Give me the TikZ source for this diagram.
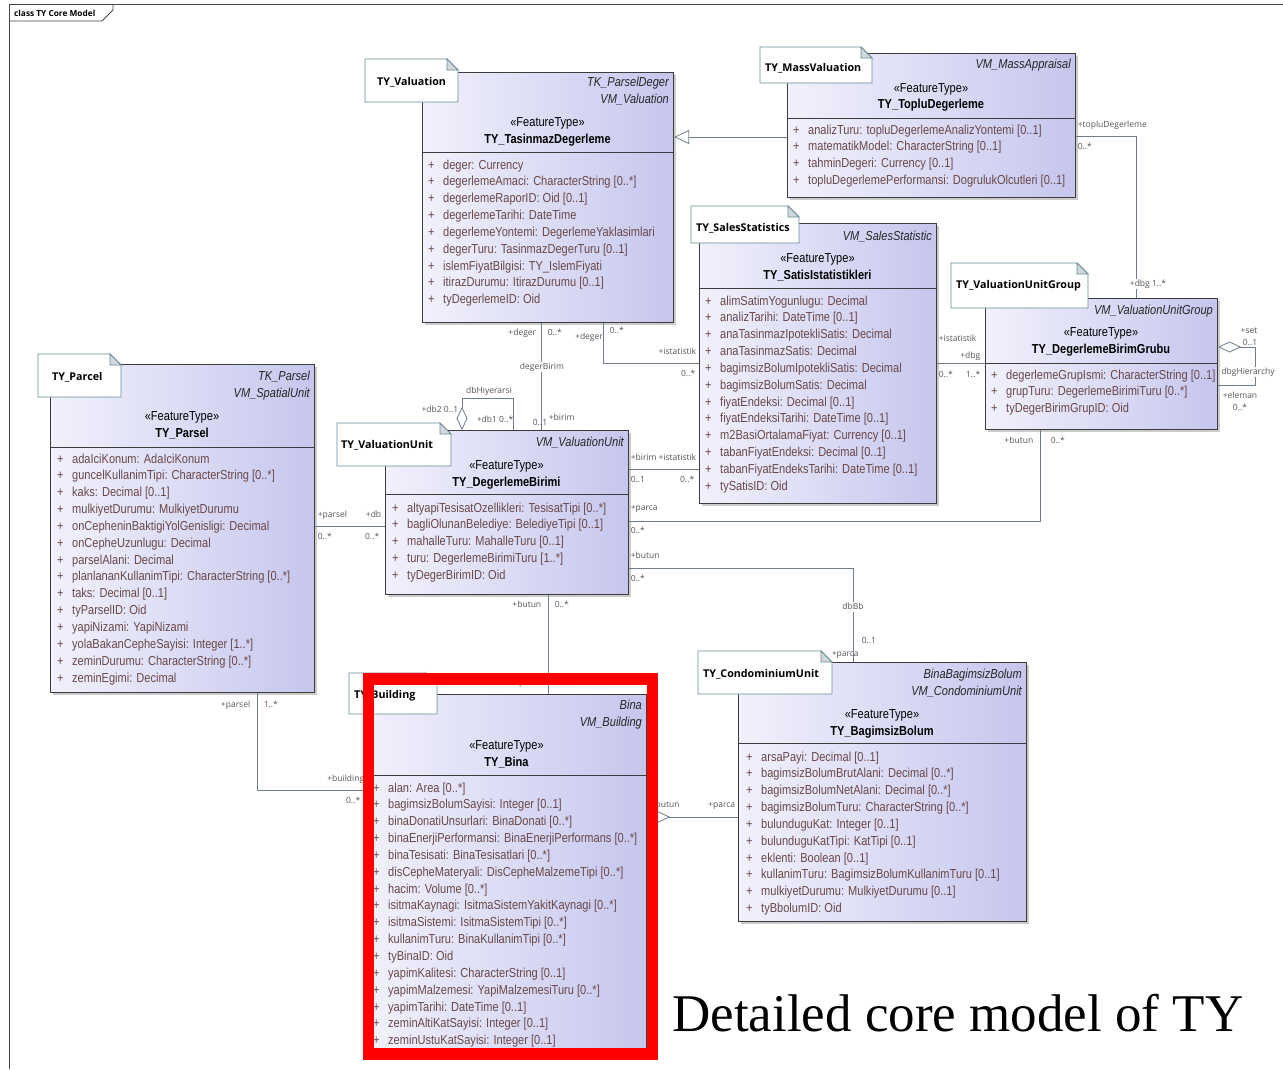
\documentclass[tikz,border=0pt]{standalone}
\usepackage{fontspec}
\setmainfont{Liberation Sans}
\newfontfamily\umlfont[FakeStretch=0.85]{Liberation Sans}
\newfontfamily\notefont{Open Sans}
\newfontfamily\capfont{Liberation Serif}
\usetikzlibrary{arrows.meta,shadows}

\definecolor{boxl}{RGB}{241,241,252}
\definecolor{boxr}{RGB}{198,198,238}
\definecolor{boxline}{RGB}{60,60,60}
\definecolor{attrcol}{RGB}{105,72,72}
\definecolor{notecol}{RGB}{104,140,150}
\definecolor{foldcol}{RGB}{212,216,222}
\definecolor{linecol}{RGB}{112,126,140}
\definecolor{lblcol}{RGB}{85,85,85}
\definecolor{framecol}{RGB}{70,70,70}

\tikzset{
  classbox/.style={draw=boxline, line width=1.1pt, left color=boxl, right color=boxr,
    anchor=north west, inner sep=0pt,
    drop shadow={shadow xshift=2.5pt, shadow yshift=-2.5pt, fill=black!45, opacity=0.45}},
  sepline/.style={draw=boxline, line width=0.9pt},
  txt/.style={inner sep=0pt, text height=10pt, text depth=2pt, font=\umlfont\fontsize{13}{15}\selectfont},
  attr/.style={txt, anchor=west, text=attrcol},
  tag/.style={txt, anchor=east, font=\umlfont\fontsize{13}{15}\selectfont\itshape, text=black!85},
  stereo/.style={txt},
  cname/.style={txt, font=\umlfont\fontsize{13}{15}\selectfont\bfseries},
  notebox/.style={draw=notecol, fill=white, line width=0.9pt},
  notefold/.style={draw=notecol, fill=foldcol, line width=0.9pt},
  notetext/.style={anchor=west, inner sep=0pt, text height=8pt, text depth=2pt,
    font=\notefont\bfseries\fontsize{10.7}{12}\selectfont},
  assoc/.style={draw=linecol, line width=0.8pt},
  gen/.style={assoc, -{Triangle[open, length=15pt, width=14pt]}},
  aggr/.style={assoc, {Diamond[open, length=23pt, width=11pt]}-},
  lbl/.style={inner sep=0.6pt, text height=6.5pt, text depth=1.5pt, text=lblcol,
    font=\notefont\fontsize{8.5}{10}\selectfont},
  frame/.style={draw=framecol, line width=0.8pt},
}

\begin{document}
\begin{tikzpicture}[x=1pt, y=-1pt]
\useasboundingbox (0,0) rectangle (1283,1069);
\fill[white] (0,0) rectangle (1283,1069);

% diagram frame
\draw[frame] (9,1069) -- (9,4) -- (1283,4);
\draw[frame] (9,21) -- (102,21) -- (113,10) -- (113,4);
\node[anchor=west, inner sep=0pt, font=\notefont\bfseries\fontsize{8.3}{10}\selectfont] (ftitle) at (14,13) {class TY Core Model};

% TY_TasinmazDegerleme
\node[classbox, minimum width=251pt, minimum height=250pt] (tasd) at (422,72) {};
\draw[sepline] (tasd.west |- 0,152) -- (tasd.east |- 0,152);
\node[tag] (tasdt1) at (669,82) {TK\_ParselDeger};
\node[tag] (tasdt2) at (669,99) {VM\_Valuation};
\node[stereo] (tasds) at (547.5,122) {«FeatureType»};
\node[cname] (tasdn) at (547.5,139) {TY\_TasinmazDegerleme};
\foreach \a [count=\i] in {deger: Currency, degerlemeAmaci: CharacterString [0..*],
    degerlemeRaporID: Oid [0..1], degerlemeTarihi: DateTime,
    degerlemeYontemi: DegerlemeYaklasimlari, degerTuru: TasinmazDegerTuru [0..1],
    islemFiyatBilgisi: TY\_IslemFiyati, itirazDurumu: ItirazDurumu [0..1], tyDegerlemeID: Oid}
  \node[attr] (tasda\i) at (428,{165+(\i-1)*16.85}) {\makebox[15pt][l]{+}\a};

% TY_TopluDegerleme
\node[classbox, minimum width=288pt, minimum height=144pt] (topl) at (787,53) {};
\draw[sepline] (topl.west |- 0,118) -- (topl.east |- 0,118);
\node[tag] (toplt1) at (1071,64) {VM\_MassAppraisal};
\node[stereo] (topls) at (931,88) {«FeatureType»};
\node[cname] (topln) at (931,104) {TY\_TopluDegerleme};
\foreach \a [count=\i] in {analizTuru: topluDegerlemeAnalizYontemi [0..1],
    matematikModel: CharacterString [0..1], tahminDegeri: Currency [0..1],
    topluDegerlemePerformansi: DogrulukOlcutleri [0..1]}
  \node[attr] (topla\i) at (793,{130+(\i-1)*16.85}) {\makebox[15pt][l]{+}\a};

% TY_SatisIstatistikleri
\node[classbox, minimum width=237pt, minimum height=280pt] (sati) at (699,223) {};
\draw[sepline] (sati.west |- 0,288) -- (sati.east |- 0,288);
\node[tag] (satit1) at (932,236) {VM\_SalesStatistic};
\node[stereo] (satis) at (817.5,258) {«FeatureType»};
\node[cname] (satin) at (817.5,275) {TY\_SatisIstatistikleri};
\foreach \a [count=\i] in {alimSatimYogunlugu: Decimal, analizTarihi: DateTime [0..1],
    anaTasinmazIpotekliSatis: Decimal, anaTasinmazSatis: Decimal,
    bagimsizBolumIpotekliSatis: Decimal, bagimsizBolumSatis: Decimal,
    fiyatEndeksi: Decimal [0..1], fiyatEndeksiTarihi: DateTime [0..1],
    m2BasiOrtalamaFiyat: Currency [0..1], tabanFiyatEndeksi: Decimal [0..1],
    tabanFiyatEndeksTarihi: DateTime [0..1], tySatisID: Oid}
  \node[attr] (satia\i) at (705,{301+(\i-1)*16.85}) {\makebox[15pt][l]{+}\a};

% TY_DegerlemeBirimGrubu
\node[classbox, minimum width=232pt, minimum height=131pt] (dbg) at (985,298) {};
\draw[sepline] (dbg.west |- 0,363) -- (dbg.east |- 0,363);
\node[tag] (dbgt1) at (1213,310) {VM\_ValuationUnitGroup};
\node[stereo] (dbgs) at (1101,332) {«FeatureType»};
\node[cname] (dbgn) at (1101,349) {TY\_DegerlemeBirimGrubu};
\foreach \a [count=\i] in {degerlemeGrupIsmi: CharacterString [0..1],
    grupTuru: DegerlemeBirimiTuru [0..*], tyDegerBirimGrupID: Oid}
  \node[attr] (dbga\i) at (991,{375+(\i-1)*16.85}) {\makebox[15pt][l]{+}\a};

% TY_Parsel
\node[classbox, minimum width=264pt, minimum height=328pt] (pars) at (50,364) {};
\draw[sepline] (pars.west |- 0,447) -- (pars.east |- 0,447);
\node[tag] (parst1) at (310,376) {TK\_Parsel};
\node[tag] (parst2) at (310,393) {VM\_SpatialUnit};
\node[stereo] (parss) at (182,416) {«FeatureType»};
\node[cname] (parsn) at (182,433) {TY\_Parsel};
\foreach \a [count=\i] in {adaIciKonum: AdaIciKonum, guncelKullanimTipi: CharacterString [0..*],
    kaks: Decimal [0..1], mulkiyetDurumu: MulkiyetDurumu,
    onCepheninBaktigiYolGenisligi: Decimal, onCepheUzunlugu: Decimal, parselAlani: Decimal,
    planlananKullanimTipi: CharacterString [0..*], taks: Decimal [0..1], tyParselID: Oid,
    yapiNizami: YapiNizami, yolaBakanCepheSayisi: Integer [1..*],
    zeminDurumu: CharacterString [0..*], zeminEgimi: Decimal}
  \node[attr] (parsa\i) at (57,{459+(\i-1)*16.85}) {\makebox[15pt][l]{+}\a};

% TY_DegerlemeBirimi
\node[classbox, minimum width=243pt, minimum height=164pt] (degb) at (385,430) {};
\draw[sepline] (degb.west |- 0,494) -- (degb.east |- 0,494);
\node[tag] (degbt1) at (624,442) {VM\_ValuationUnit};
\node[stereo] (degbs) at (506.5,465) {«FeatureType»};
\node[cname] (degbn) at (506.5,482) {TY\_DegerlemeBirimi};
\foreach \a [count=\i] in {altyapiTesisatOzellikleri: TesisatTipi [0..*],
    bagliOlunanBelediye: BelediyeTipi [0..1], mahalleTuru: MahalleTuru [0..1],
    turu: DegerlemeBirimiTuru [1..*], tyDegerBirimID: Oid}
  \node[attr] (degba\i) at (392,{508+(\i-1)*16.85}) {\makebox[15pt][l]{+}\a};

% TY_Bina
\node[classbox, minimum width=279pt, minimum height=358pt] (bina) at (367,694) {};
\draw[sepline] (bina.west |- 0,775) -- (bina.east |- 0,775);
\node[tag] (binat1) at (642,705) {Bina};
\node[tag] (binat2) at (642,722) {VM\_Building};
\node[stereo] (binas) at (506.5,745) {«FeatureType»};
\node[cname] (binan) at (506.5,762) {TY\_Bina};
\foreach \a [count=\i] in {alan: Area [0..*], bagimsizBolumSayisi: Integer [0..1],
    binaDonatiUnsurlari: BinaDonati [0..*], binaEnerjiPerformansi: BinaEnerjiPerformans [0..*],
    binaTesisati: BinaTesisatlari [0..*], disCepheMateryali: DisCepheMalzemeTipi [0..*],
    hacim: Volume [0..*], isitmaKaynagi: IsitmaSistemYakitKaynagi [0..*],
    isitmaSistemi: IsitmaSistemTipi [0..*], kullanimTuru: BinaKullanimTipi [0..*],
    tyBinaID: Oid, yapimKalitesi: CharacterString [0..1],
    yapimMalzemesi: YapiMalzemesiTuru [0..*], yapimTarihi: DateTime [0..1],
    zeminAltiKatSayisi: Integer [0..1], zeminUstuKatSayisi: Integer [0..1]}
  \node[attr] (binaa\i) at (373,{788+(\i-1)*16.85}) {\makebox[15pt][l]{+}\a};

% TY_BagimsizBolum
\node[classbox, minimum width=288pt, minimum height=259pt] (bbol) at (738,662) {};
\draw[sepline] (bbol.west |- 0,743) -- (bbol.east |- 0,743);
\node[tag] (bbolt1) at (1022,674) {BinaBagimsizBolum};
\node[tag] (bbolt2) at (1022,691) {VM\_CondominiumUnit};
\node[stereo] (bbols) at (882,714) {«FeatureType»};
\node[cname] (bboln) at (882,731) {TY\_BagimsizBolum};
\foreach \a [count=\i] in {arsaPayi: Decimal [0..1], bagimsizBolumBrutAlani: Decimal [0..*],
    bagimsizBolumNetAlani: Decimal [0..*], bagimsizBolumTuru: CharacterString [0..*],
    bulunduguKat: Integer [0..1], bulunduguKatTipi: KatTipi [0..1], eklenti: Boolean [0..1],
    kullanimTuru: BagimsizBolumKullanimTuru [0..1], mulkiyetDurumu: MulkiyetDurumu [0..1],
    tyBbolumID: Oid}
  \node[attr] (bbola\i) at (746,{757+(\i-1)*16.85}) {\makebox[15pt][l]{+}\a};

% connectors
\draw[gen] (topl.west |- 0,137) -- (tasd.east |- 0,137);
\draw[assoc] (topl.east |- 0,136) -| (dbg.north -| 1136,0);
\draw[assoc] (tasd.south -| 541,0) -- (degb.north -| 541,0);
\draw[assoc] (tasd.south -| 603,0) |- (sati.west |- 0,363);
\draw[assoc] (degb.east |- 0,469) -- (sati.west |- 0,469);
\draw[assoc] (degb.east |- 0,521) -| (dbg.south -| 1040,0);
\draw[assoc] (degb.east |- 0,568) -| (bbol.north -| 853,0);
\draw[assoc] (sati.east |- 0,363) -- (dbg.west |- 0,363);
\draw[assoc] (pars.east |- 0,526) -- (degb.west |- 0,526);
\draw[assoc] (pars.south -| 257,0) |- (bina.west |- 0,790);
\draw[assoc] (degb.south -| 548,0) -- (bina.north -| 548,0);
\draw[aggr] (bina.east |- 0,817) -- (bbol.west |- 0,817);
\draw[aggr] (degb.north -| 462,0) -- (462,398) -- (513,398) -- (degb.north -| 513,0);
\draw[aggr] (dbg.east |- 0,347) -- (1255,347) -- (1255,385) -- (dbg.east |- 0,385);

% connector labels
\node[lbl, anchor=west] (l1) at (1077,125) {+topluDegerleme};
\node[lbl, anchor=west] (l2) at (1077,147) {0..*};
\node[lbl, fill=white] (l3) at (1148,284) {+dbg 1..*};
\node[lbl, anchor=east] (l4) at (537,333) {+deger};
\node[lbl, anchor=west] (l5) at (547,333) {0..*};
\node[lbl, fill=white] (l6) at (542,367) {degerBirim};
\node[lbl] (l7) at (540,423) {0..1};
\node[lbl, anchor=west] (l8) at (548,418) {+birim};
\node[lbl] (l9) at (589,337) {+deger};
\node[lbl, anchor=west] (l10) at (609,331) {0..*};
\node[lbl, anchor=east] (l11) at (697,352) {+istatistik};
\node[lbl, anchor=east] (l12) at (696,374) {0..*};
\node[lbl, anchor=west] (l13) at (630,458) {+birim};
\node[lbl, anchor=east] (l14) at (697,458) {+istatistik};
\node[lbl, anchor=west] (l15) at (630,480) {0..1};
\node[lbl, anchor=east] (l16) at (695,480) {0..*};
\node[lbl, anchor=west] (l17) at (630,508) {+parca};
\node[lbl, anchor=west] (l18) at (630,531) {0..*};
\node[lbl, anchor=east] (l19) at (1034,441) {+butun};
\node[lbl, anchor=west] (l20) at (1050,441) {0..*};
\node[lbl, anchor=west] (l21) at (630,556) {+butun};
\node[lbl, anchor=west] (l22) at (630,579) {0..*};
\node[lbl, fill=white] (l23) at (853,607) {dbBb};
\node[lbl, anchor=west] (l24) at (861,641) {0..1};
\node[lbl, anchor=west] (l25) at (831,654) {+parca};
\node[lbl, anchor=west] (l26) at (938,339) {+istatistik};
\node[lbl, anchor=east] (l27) at (981,356) {+dbg};
\node[lbl, anchor=west] (l28) at (938,375) {0..*};
\node[lbl, anchor=east] (l29) at (981,375) {1..*};
\node[lbl] (l30) at (1249,331) {+set};
\node[lbl] (l31) at (1250,343) {0..1};
\node[lbl, fill=white] (l32) at (1248,372) {dbgHierarchy};
\node[lbl] (l33) at (1240,396) {+eleman};
\node[lbl] (l34) at (1240,408) {0..*};
\node[lbl, anchor=west] (l35) at (317,515) {+parsel};
\node[lbl, anchor=west] (l36) at (317,537) {0..*};
\node[lbl, anchor=east] (l37) at (382,515) {+db};
\node[lbl, anchor=east] (l38) at (380,537) {0..*};
\node[lbl, anchor=east] (l39) at (251,705) {+parsel};
\node[lbl, anchor=west] (l40) at (263,705) {1..*};
\node[lbl, anchor=east] (l41) at (365,779) {+building};
\node[lbl, anchor=east] (l42) at (361,801) {0..*};
\node[lbl, anchor=east] (l43) at (542,605) {+butun};
\node[lbl, anchor=west] (l44) at (554,605) {0..*};
\node[lbl, anchor=east] (l45) at (542,683) {+parca};
\node[lbl, anchor=west] (l46) at (554,683) {0..1};
\node[lbl, anchor=west] (l47) at (650,805) {+butun};
\node[lbl, anchor=east] (l48) at (736,805) {+parca};
\node[lbl] (l49) at (489,391) {dbHiyerarsi};
\node[lbl, anchor=east] (l50) at (459,410) {+db2 0..1};
\node[lbl, anchor=west] (l51) at (476,420) {+db1 0..*};

% package notes
\filldraw[notebox] (365,59) -- (447,59) -- (458,70) -- (458,102) -- (365,102) -- cycle;
\filldraw[notefold] (447,59) -- (447,70) -- (458,70) -- cycle;
\node[notetext] (nval) at (377,82) {TY\_Valuation};
\filldraw[notebox] (760,47) -- (861,47) -- (872,58) -- (872,83) -- (760,83) -- cycle;
\filldraw[notefold] (861,47) -- (861,58) -- (872,58) -- cycle;
\node[notetext] (nmass) at (765,68) {TY\_MassValuation};
\filldraw[notebox] (691,206) -- (788,206) -- (799,217) -- (799,243) -- (691,243) -- cycle;
\filldraw[notefold] (788,206) -- (788,217) -- (799,217) -- cycle;
\node[notetext] (nsales) at (696,228) {TY\_SalesStatistics};
\filldraw[notebox] (951,263) -- (1077,263) -- (1088,274) -- (1088,308) -- (951,308) -- cycle;
\filldraw[notefold] (1077,263) -- (1077,274) -- (1088,274) -- cycle;
\node[notetext] (nvug) at (956,285) {TY\_ValuationUnitGroup};
\filldraw[notebox] (38,354) -- (110,354) -- (121,365) -- (121,397) -- (38,397) -- cycle;
\filldraw[notefold] (110,354) -- (110,365) -- (121,365) -- cycle;
\node[notetext] (nparc) at (52,377) {TY\_Parcel};
\filldraw[notebox] (337,423) -- (440,423) -- (451,434) -- (451,466) -- (337,466) -- cycle;
\filldraw[notefold] (440,423) -- (440,434) -- (451,434) -- cycle;
\node[notetext] (nvu) at (341,445) {TY\_ValuationUnit};
\filldraw[notebox] (349,673) -- (426,673) -- (437,684) -- (437,714) -- (349,714) -- cycle;
\filldraw[notefold] (426,673) -- (426,684) -- (437,684) -- cycle;
\node[notetext] (nbld) at (354,695) {TY\_Building};
\filldraw[notebox] (698,651) -- (821,651) -- (832,662) -- (832,694) -- (698,694) -- cycle;
\filldraw[notefold] (821,651) -- (821,662) -- (832,662) -- cycle;
\node[notetext] (ncond) at (703,674) {TY\_CondominiumUnit};

% highlight and caption
\draw[red, line width=11.5pt] (368.5,679) rectangle (652.5,1054);
\node[anchor=west, inner sep=0pt, font=\capfont\fontsize{53}{60}\selectfont] (cap) at (672,1013) {Detailed core model of TY};
\end{tikzpicture}
\end{document}
